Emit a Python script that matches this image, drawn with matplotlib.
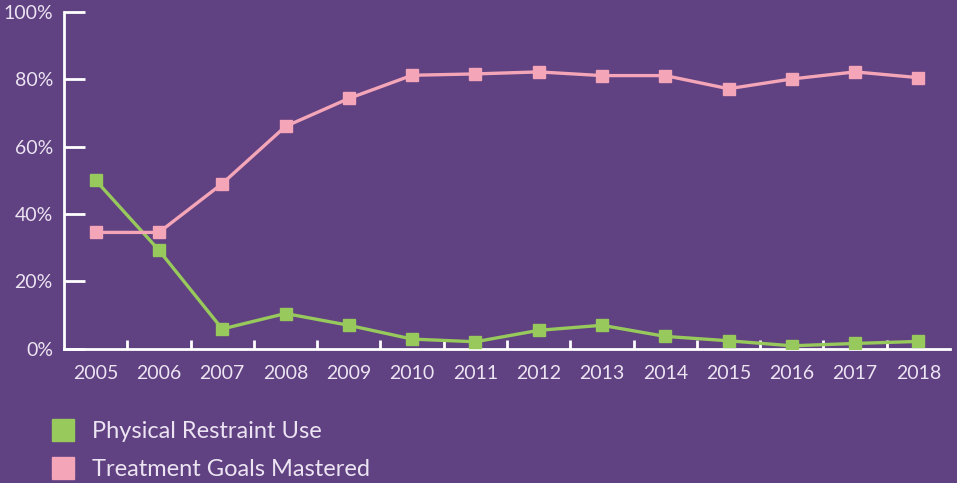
import matplotlib.pyplot as plt
from matplotlib.lines import Line2D

plt.rcParams['font.family'] = ['Lato', 'DejaVu Sans']

years = ["2005", "2006", "2007", "2008", "2009", "2010", "2011",
         "2012", "2013", "2014", "2015", "2016", "2017", "2018"]
restraint = [50.0, 29.2, 5.8, 10.4, 6.9, 2.8, 2.0, 5.4, 6.9, 3.6, 2.3, 0.8, 1.5, 2.1]
goals = [34.5, 34.5, 49.0, 66.0, 74.3, 81.2, 81.6, 82.2, 81.1, 81.1, 77.2, 80.1, 82.2, 80.5]
yticks = [0, 20, 40, 60, 80, 100]

bg = "#604181"
green = "#97c95c"
pink = "#f4a6b8"
txt = "#ece4f2"

fig = plt.figure(figsize=(9.57, 4.83), dpi=100, facecolor=bg)
ax = fig.add_axes([64/957, 1 - 348.5/483, 886/957, 336.5/483])
ax.set_facecolor(bg)

x = list(range(len(years)))
ax.plot(x, restraint, color=green, lw=2.4, marker="s", ms=8, zorder=3)
ax.plot(x, goals, color=pink, lw=2.4, marker="s", ms=8, zorder=3)

ax.set_xlim(-0.5, len(years) - 0.5)
ax.set_ylim(0, 100)
ax.set_yticks(yticks)
ax.set_yticklabels([f"{v}%" for v in yticks])
ax.set_xticks(x)
ax.set_xticklabels(years)
ax.set_xticks([i + 0.5 for i in x[:-1]], minor=True)

for s in ["top", "right"]:
    ax.spines[s].set_visible(False)
for s in ["left", "bottom"]:
    ax.spines[s].set_color("white")
    ax.spines[s].set_linewidth(2)

ax.tick_params(axis="y", direction="in", length=15, width=2, color="white",
               labelcolor=txt, labelsize=14, pad=8)
ax.tick_params(axis="x", which="major", length=0, labelcolor=txt, labelsize=14, pad=12)
ax.tick_params(axis="x", which="minor", direction="in", length=6.5, width=2, color="white")

handles = [Line2D([], [], ls="none", marker="s", ms=16, color=green),
           Line2D([], [], ls="none", marker="s", ms=16, color=pink)]
leg = fig.legend(handles, ["Physical Restraint Use", "Treatment Goals Mastered"],
                 loc="upper left", bbox_to_anchor=(28/957, 1 - 400/483), frameon=False,
                 fontsize=17, labelcolor=txt, handletextpad=0.6, labelspacing=0.7,
                 handlelength=1.2)

fig.savefig("out.png", dpi=100, facecolor=bg)
